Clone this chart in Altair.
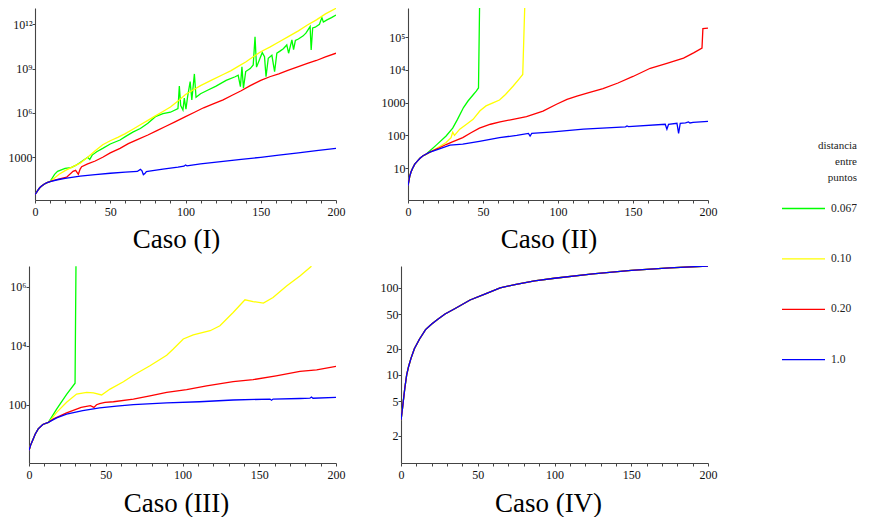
import altair as alt
import pandas as pd

SERIES = ["0.067", "0.10", "0.20", "1.0"]
COLORS = ["#00ff00", "#ffff00", "#ff0000", "#0000ff"]
TITLES = ["Caso (I)", "Caso (II)", "Caso (III)", "Caso (IV)"]
LEGEND_TITLE = ["distancia", "entre", "puntos"]
X_TICKS = list(range(0, 201, 10))

# values as (x, log10(y))
# ---- Caso I ----
I_start = [(0, 0.48), (1, 0.62), (2, 0.78), (3, 0.92), (4, 1.02), (6, 1.18), (8, 1.28), (10, 1.36)]
I_green = [(13, 1.85), (15, 2.05), (20, 2.25), (24, 2.3), (27, 2.45), (30, 2.65), (35, 3.0), (36.4, 2.86),
           (38, 3.15), (41, 3.38), (45, 3.6), (50, 3.9), (56.5, 4.17), (60, 4.4), (65, 4.7), (70, 4.95),
           (75, 5.3), (80, 5.75), (85, 5.95), (90, 6.05), (95, 6.3), (95.9, 7.82), (96.8, 6.5), (98.3, 6.2),
           (99.2, 7.0), (100.3, 6.25), (101.4, 7.1), (103.1, 8.12), (104.2, 6.88), (105.9, 8.64), (107, 7.06),
           (110, 7.3), (115, 7.55), (120, 7.8), (127, 8.2), (133, 8.45), (135, 8.55), (136.5, 7.78),
           (137.5, 9.13), (138.5, 7.67), (140, 8.8), (143, 9.0), (145, 9.25), (146.2, 11.16), (147.2, 9.1),
           (149.5, 9.7), (151, 10.08), (152.5, 9.8), (153.5, 8.45), (155, 9.7), (157.4, 9.9), (159.2, 8.79),
           (160.7, 10.04), (163, 10.2), (165, 10.35), (167.3, 10.6), (168.5, 10.04), (170.7, 10.94),
           (171.8, 10.28), (173, 10.9), (175, 11.0), (178, 11.2), (180, 11.4), (182.8, 11.84), (183.5, 10.26),
           (184.5, 11.75), (186.2, 11.8), (189, 12.0), (190.6, 12.45), (191.6, 12.15), (194, 12.3),
           (197, 12.45), (200, 12.63)]
I_yellow = [(13, 1.6), (16, 1.85), (20, 2.1), (25, 2.35), (30, 2.6), (35, 3.0), (40, 3.45), (45, 3.85),
            (50, 4.12), (55, 4.35), (60, 4.6), (65, 4.9), (70, 5.2), (75, 5.5), (80, 5.8), (85, 6.1),
            (90, 6.4), (95, 6.8), (100, 7.25), (105, 7.55), (110, 7.85), (118, 8.25), (125, 8.6), (130, 8.85),
            (135, 9.15), (140, 9.45), (145, 9.8), (150, 10.14), (156, 10.45), (162, 10.8), (168, 11.15),
            (175, 11.55), (181, 11.95), (187, 12.3), (193, 12.7), (200, 13.08)]
I_red = [(12, 1.42), (15, 1.5), (21, 1.65), (25.3, 2.05), (27, 2.12), (28.8, 1.85), (30, 2.2), (31, 2.36),
         (35, 2.55), (40, 2.75), (45, 3.0), (50, 3.3), (56.5, 3.6), (62, 3.92), (68, 4.2), (75, 4.51),
         (81, 4.8), (87, 5.1), (93, 5.4), (100, 5.75), (106, 6.05), (112, 6.35), (118, 6.6), (125, 6.88),
         (131, 7.2), (137, 7.5), (143, 7.85), (150, 8.2), (156, 8.45), (162, 8.65), (168, 8.88), (175, 9.13),
         (181, 9.35), (187, 9.55), (193, 9.8), (200, 10.04)]
I_blue = [(15, 1.48), (20, 1.58), (30, 1.72), (40, 1.83), (50, 1.92), (60, 2.0), (68, 2.04), (70, 2.18),
          (71, 2.1), (72, 1.82), (73, 1.9), (74, 2.03), (76, 2.06), (85, 2.2), (95, 2.33), (99, 2.4),
          (100, 2.48), (101, 2.42), (102, 2.44), (110, 2.56), (125, 2.73), (137, 2.86), (150, 3.0),
          (162, 3.15), (175, 3.3), (187, 3.45), (200, 3.61)]

# ---- Caso II ----
II_start = [(0, 0.46), (1.2, 0.76), (2, 0.88), (3, 0.99), (4.5, 1.12), (6.4, 1.22), (8, 1.3), (9.8, 1.37)]
II_green = [(12, 1.42), (19, 1.71), (25.4, 1.98), (29.8, 2.22), (33, 2.49), (37, 2.85), (40, 3.05),
            (43.6, 3.25), (45.5, 3.35), (47, 3.45), (47.7, 5.89)]
II_yellow = [(12, 1.42), (14, 1.46), (20, 1.63), (25.4, 1.78), (28.7, 1.93), (29.8, 2.1), (31, 2.0),
             (34.5, 2.19), (39, 2.34), (43.4, 2.49), (48, 2.75), (52, 2.9), (57, 3.0), (61, 3.08), (65, 3.25),
             (70, 3.5), (74, 3.72), (76.5, 3.86), (77.8, 5.89)]
II_red = [(14.2, 1.48), (20, 1.6), (25.4, 1.72), (30, 1.81), (36.5, 1.93), (42, 2.08), (47.6, 2.22),
          (55, 2.34), (61.4, 2.41), (70, 2.49), (79, 2.57), (90, 2.74), (99, 2.95), (106, 3.1), (112.6, 3.2),
          (120, 3.3), (130, 3.43), (140, 3.6), (150, 3.8), (161.5, 4.05), (172.6, 4.2), (183.7, 4.36),
          (190.4, 4.52), (196, 4.67), (196.6, 5.26), (200, 5.28)]
II_blue = [(14.2, 1.48), (20, 1.57), (28, 1.7), (36.5, 1.73), (47.6, 1.82), (61, 1.93), (72.5, 2.0),
           (80.3, 2.06), (81.4, 1.98), (82.5, 2.06), (94.8, 2.1), (117, 2.19), (145, 2.26), (146, 2.29),
           (147, 2.27), (171.5, 2.34), (172.6, 2.19), (173.7, 2.34), (179.3, 2.37), (180.4, 2.06),
           (181.5, 2.37), (185, 2.38), (187, 2.41), (188, 2.38), (190, 2.4), (200, 2.43)]

# ---- Caso III ----
III_start = [(0, 0.44), (1, 0.62), (2.8, 0.84), (4, 1.0), (6, 1.18), (9, 1.33), (12.6, 1.4)]
III_green = [(18, 1.85), (24.5, 2.35), (30, 2.73), (30.6, 6.7)]
III_yellow = [(13.7, 1.45), (18, 1.74), (24.5, 2.08), (31, 2.36), (37.6, 2.42), (42, 2.4), (47.3, 2.33),
              (52.8, 2.53), (61.5, 2.78), (68, 3.0), (78.8, 3.32), (89.7, 3.68), (94, 3.89), (100.5, 4.23),
              (107, 4.37), (118, 4.51), (124.4, 4.68), (133, 5.13), (140.7, 5.56), (146, 5.5), (152.7, 5.45),
              (159, 5.64), (167.8, 6.03), (176.5, 6.37), (184, 6.7)]
III_red = [(16, 1.52), (24.5, 1.72), (34, 1.91), (40, 1.97), (42.3, 1.91), (44, 2.0), (46, 2.04),
           (49.5, 2.08), (55, 2.1), (68, 2.19), (78.8, 2.3), (89.7, 2.42), (102.7, 2.51), (115.7, 2.64),
           (133, 2.78), (146, 2.85), (161, 2.98), (176.5, 3.13), (187.4, 3.18), (200, 3.3)]
III_blue = [(18, 1.55), (24.5, 1.68), (35, 1.8), (46, 1.89), (57, 1.95), (68, 2.0), (89.7, 2.06),
            (111, 2.1), (133, 2.16), (157, 2.19), (158, 2.15), (159, 2.19), (176.5, 2.21), (183, 2.22),
            (184, 2.26), (185, 2.22), (200, 2.25)]

# ---- Caso IV (all four curves coincide) ----
IV_curve = [(0, 0.48), (0.5, 0.55), (1, 0.62), (1.5, 0.7), (2.5, 0.85), (3.7, 1.0), (5, 1.1), (6.5, 1.19),
            (8.7, 1.3), (12, 1.41), (16, 1.52), (20, 1.585), (24, 1.64), (28.7, 1.7), (35, 1.76), (45, 1.86),
            (55, 1.93), (64.6, 2.0), (75, 2.04), (87, 2.08), (100, 2.11), (125, 2.16), (150, 2.2),
            (175, 2.23), (200, 2.25)]

# axis ticks and labels
I_ticks, I_labels = [1e3, 1e6, 1e9, 1e12], ["1000", "10⁶", "10⁹", "10¹²"]
II_ticks, II_labels = [10, 100, 1000, 1e4, 1e5], ["10", "100", "1000", "10⁴", "10⁵"]
III_ticks, III_labels = [100, 1e4, 1e6], ["100", "10⁴", "10⁶"]
IV_ticks, IV_labels = [2, 5, 10, 20, 50, 100], ["2", "5", "10", "20", "50", "100"]

I_domain = [1.29, 1.26e13]
II_domain = [1.06, 7.8e5]
III_domain = [1.05, 5.1e6]
IV_domain = [0.975, 178]

panel_series = {
    "I": [I_start + I_green, I_start + I_yellow, I_start + I_red, I_start + I_blue],
    "II": [II_start + II_green, II_start + II_yellow, II_start + II_red, II_start + II_blue],
    "III": [III_start + III_green, III_start + III_yellow, III_start + III_red, III_start + III_blue],
    "IV": [IV_curve, IV_curve, IV_curve, IV_curve],
}

rows = []
for pid, lists in panel_series.items():
    for s, pts in zip(SERIES, lists):
        for x, lv in pts:
            rows.append({"panel": pid, "series": s, "x": x, "y": 10 ** lv})
df = pd.DataFrame(rows)

FONT = "Liberation Serif"
AXIS_COLOR = "#444444"
LABEL_COLOR = "#111111"

color_enc = alt.Color(
    "series:N",
    scale=alt.Scale(domain=SERIES, range=COLORS),
    legend=alt.Legend(
        title=LEGEND_TITLE, orient="none", legendX=773, legendY=132,
        symbolType="stroke", symbolSize=1849, symbolStrokeWidth=1.3,
        labelFont=FONT, labelFontSize=11.5, labelColor="#222222", labelOffset=5,
        titleFont=FONT, titleFontSize=11, titleFontWeight="normal", titleColor="#222222",
        titleLineHeight=16, titleAlign="right", titleAnchor="end", titlePadding=3,
        rowPadding=22.4,
    ),
)


def label_expr(ticks, labels):
    expr = "''"
    for v, lab in reversed(list(zip(ticks, labels))):
        expr = f"abs(datum.value - {v}) < {v * 1e-6} ? '{lab}' : ({expr})"
    return expr


AXIS_STYLE = dict(
    title=None, grid=False, tickSize=3, domainColor=AXIS_COLOR, domainWidth=1.1,
    tickColor=AXIS_COLOR, tickWidth=1, labelFont=FONT, labelFontSize=12, labelColor=LABEL_COLOR,
    labelOverlap=False, labelFlush=False,
)


def make_panel(pid, title, ydom, yticks, ylabels, w, h, toff):
    d = df[df.panel == pid]
    return alt.Chart(d).mark_line(strokeWidth=1.3, clip=True).encode(
        x=alt.X("x:Q", scale=alt.Scale(domain=[0, 200], nice=False, zero=False),
                axis=alt.Axis(values=X_TICKS, labelExpr="datum.value % 50 === 0 ? datum.label : ''",
                              labelPadding=3, **AXIS_STYLE)),
        y=alt.Y("y:Q", scale=alt.Scale(type="log", domain=ydom, nice=False),
                axis=alt.Axis(values=yticks, labelExpr=label_expr(yticks, ylabels),
                              labelPadding=0, **AXIS_STYLE)),
        color=color_enc,
    ).properties(
        width=w, height=h,
        title=alt.TitleParams(title, orient="bottom", anchor="middle", frame="bounds",
                              fontSize=27, font=FONT, fontWeight="normal", color="black", offset=toff),
    )


def spacer():
    # empty 1px view so that each row starts at its own left bound
    return alt.Chart(pd.DataFrame({"v": []})).mark_point().properties(width=1, height=1)


p1 = make_panel("I", TITLES[0], I_domain, I_ticks, I_labels, 301, 192, 10)
p2 = make_panel("II", TITLES[1], II_domain, II_ticks, II_labels, 300, 192, 10)
p3 = make_panel("III", TITLES[2], III_domain, III_ticks, III_labels, 307, 197, 11)
p4 = make_panel("IV", TITLES[3], IV_domain, IV_ticks, IV_labels, 307, 197, 11)

top = alt.hconcat(spacer(), alt.hconcat(p1, p2, spacing=36), spacing=-1)
bottom = alt.hconcat(spacer(), alt.hconcat(p3, p4, spacing=35), spacing=-1)

chart = alt.vconcat(top, bottom, spacing=13, padding=0, background="white").configure_view(stroke=None)

chart.save("out.html", embed_options={"renderer": "svg", "actions": False})
